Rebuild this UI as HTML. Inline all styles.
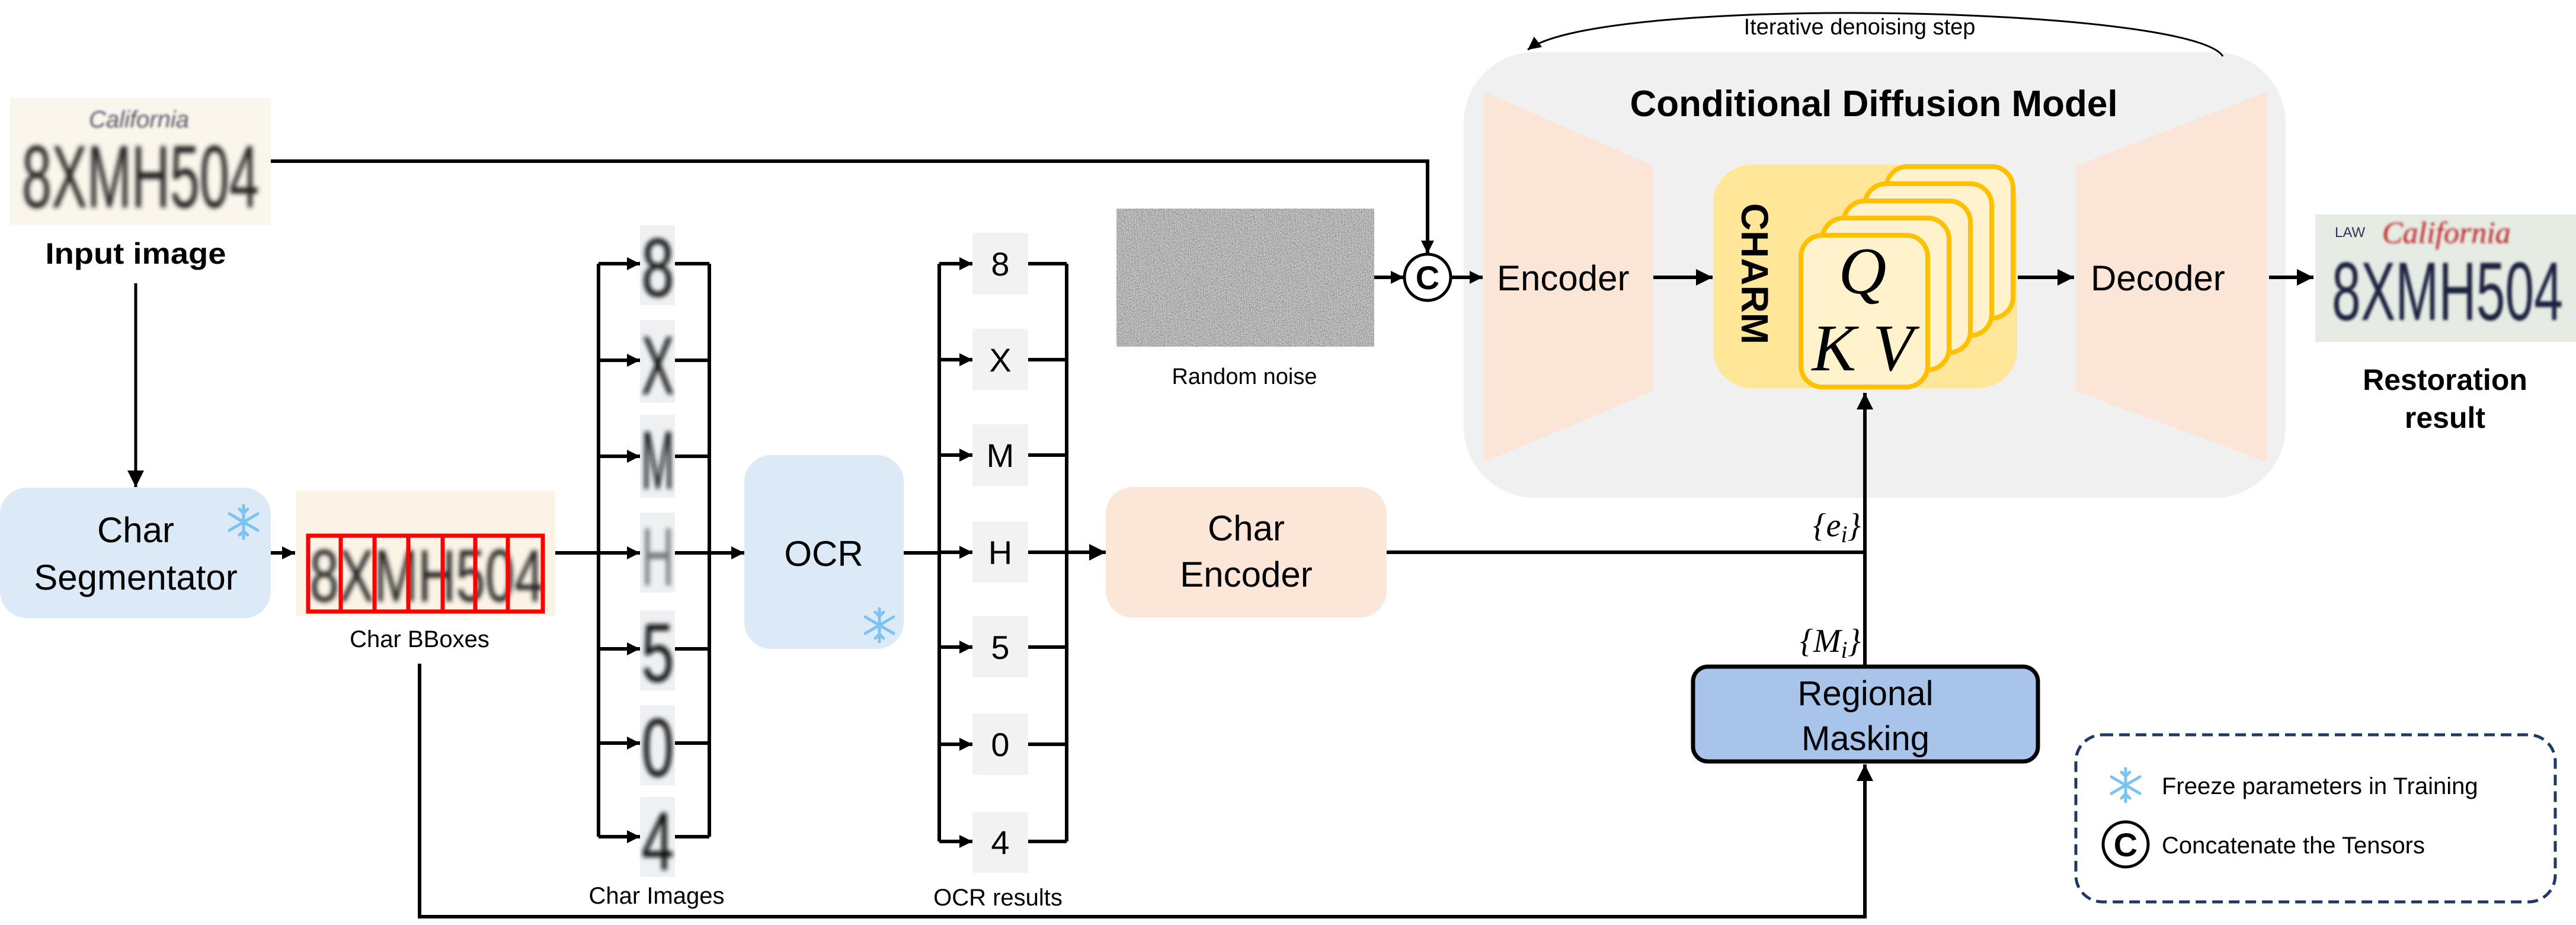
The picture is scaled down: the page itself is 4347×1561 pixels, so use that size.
<!DOCTYPE html>
<html><head><meta charset="utf-8"><style>
html,body{margin:0;padding:0;background:#fff;}
svg{display:block;}
text{font-family:"Liberation Sans",sans-serif;}
</style></head><body>
<svg width="4347" height="1561" viewBox="0 0 4347 1561" xmlns="http://www.w3.org/2000/svg">
<defs>
<marker id="a" viewBox="0 0 10 10" refX="10" refY="5" markerWidth="28" markerHeight="28" markerUnits="userSpaceOnUse" orient="auto"><path d="M0,0L10,5L0,10z" fill="#000"/></marker>
<marker id="as" viewBox="0 0 10 10" refX="10" refY="5" markerWidth="22" markerHeight="22" markerUnits="userSpaceOnUse" orient="auto"><path d="M0,0L10,5L0,10z" fill="#000"/></marker>
<filter id="noise" x="0" y="0" width="100%" height="100%"><feTurbulence type="fractalNoise" baseFrequency="1.2" numOctaves="1" seed="3"/><feColorMatrix type="matrix" values="0.33 0.33 0.33 0 0  0.33 0.33 0.33 0 0  0.33 0.33 0.33 0 0  0 0 0 0 1"/><feComponentTransfer><feFuncR type="linear" slope="3.5" intercept="-1.25"/><feFuncG type="linear" slope="3.5" intercept="-1.25"/><feFuncB type="linear" slope="3.5" intercept="-1.25"/></feComponentTransfer></filter>
<filter id="blur"><feGaussianBlur stdDeviation="4"/></filter>
<filter id="blur2"><feGaussianBlur stdDeviation="2"/></filter>
<g id="snow">
<g stroke="#7cc4ef" stroke-width="5" fill="none" stroke-linecap="round">
<line x1="0" y1="-28" x2="0" y2="28"/><line x1="-24" y1="-14" x2="24" y2="14"/><line x1="-24" y1="14" x2="24" y2="-14"/>
<path d="M-7,-22L0,-15L7,-22M-7,22L0,15L7,22"/>
</g></g>
</defs>

<!-- Input image -->
<rect x="17" y="165" width="440" height="215" fill="#fbf6ec"/>
<text x="237" y="350" font-size="150" text-anchor="middle" fill="#222" filter="url(#blur)" textLength="400" lengthAdjust="spacingAndGlyphs">8XMH504</text>
<text x="150" y="215" font-size="40" font-style="italic" fill="#556" filter="url(#blur2)">California</text>
<text x="229" y="445" font-size="50" font-weight="bold" text-anchor="middle" textLength="305" lengthAdjust="spacingAndGlyphs">Input image</text>
<line x1="229" y1="478" x2="229" y2="822" stroke="#000" stroke-width="5" marker-end="url(#a)"/>

<!-- Char Segmentator -->
<rect x="0" y="823" width="457" height="220" rx="45" fill="#dce9f7"/>
<text x="229" y="915" font-size="60" text-anchor="middle">Char</text>
<text x="229" y="995" font-size="60" text-anchor="middle">Segmentator</text>
<use href="#snow" x="411" y="881"/>
<line x1="457" y1="933" x2="498" y2="933" stroke="#000" stroke-width="6" marker-end="url(#as)"/>

<!-- Char BBoxes -->
<rect x="500" y="828" width="437" height="212" fill="#fbf4e6"/>
<text x="720" y="1015" font-size="125" text-anchor="middle" fill="#222" filter="url(#blur)" textLength="395" lengthAdjust="spacingAndGlyphs">8XMH504</text>
<g fill="none" stroke="#f00" stroke-width="7">
<rect x="520" y="904" width="396" height="128"/>
<line x1="575" y1="904" x2="575" y2="1032"/><line x1="632" y1="904" x2="632" y2="1032"/><line x1="689" y1="904" x2="689" y2="1032"/><line x1="747" y1="904" x2="747" y2="1032"/><line x1="802" y1="904" x2="802" y2="1032"/><line x1="857" y1="904" x2="857" y2="1032"/>
</g>
<text x="708" y="1092" font-size="40" text-anchor="middle">Char BBoxes</text>

<!-- char images bracket -->
<g stroke="#000" stroke-width="6" fill="none">
<line x1="937" y1="933" x2="1010" y2="933"/>
<line x1="1010" y1="445" x2="1010" y2="1412"/>
<line x1="1197" y1="445" x2="1197" y2="1412"/>
</g>
<g stroke="#000" stroke-width="6">
<line x1="1010" y1="445" x2="1080" y2="445" marker-end="url(#as)"/>
<line x1="1010" y1="608" x2="1080" y2="608" marker-end="url(#as)"/>
<line x1="1010" y1="770" x2="1080" y2="770" marker-end="url(#as)"/>
<line x1="1010" y1="933" x2="1080" y2="933" marker-end="url(#as)"/>
<line x1="1010" y1="1095" x2="1080" y2="1095" marker-end="url(#as)"/>
<line x1="1010" y1="1254" x2="1080" y2="1254" marker-end="url(#as)"/>
<line x1="1010" y1="1412" x2="1080" y2="1412" marker-end="url(#as)"/>
<line x1="1139" y1="445" x2="1197" y2="445"/><line x1="1139" y1="608" x2="1197" y2="608"/><line x1="1139" y1="770" x2="1197" y2="770"/><line x1="1139" y1="1095" x2="1197" y2="1095"/><line x1="1139" y1="1254" x2="1197" y2="1254"/><line x1="1139" y1="1412" x2="1197" y2="1412"/>
<line x1="1139" y1="933" x2="1256" y2="933" marker-end="url(#as)"/>
</g>
<g fill="#eef0f2">
<rect x="1080" y="380" width="59" height="135"/><rect x="1080" y="540" width="59" height="140"/><rect x="1080" y="700" width="59" height="140"/><rect x="1080" y="865" width="59" height="135"/><rect x="1080" y="1030" width="59" height="135"/><rect x="1080" y="1190" width="59" height="135"/><rect x="1080" y="1345" width="59" height="135"/>
</g>
<g font-size="140" text-anchor="middle" fill="#111" filter="url(#blur)">
<text x="1110" y="500" textLength="55" lengthAdjust="spacingAndGlyphs">8</text>
<text x="1110" y="665" textLength="55" lengthAdjust="spacingAndGlyphs">X</text>
<text x="1110" y="825" textLength="55" lengthAdjust="spacingAndGlyphs">M</text>
<text x="1110" y="988" textLength="55" lengthAdjust="spacingAndGlyphs" fill="#777">H</text>
<text x="1110" y="1150" textLength="55" lengthAdjust="spacingAndGlyphs">5</text>
<text x="1110" y="1310" textLength="55" lengthAdjust="spacingAndGlyphs">0</text>
<text x="1110" y="1468" textLength="55" lengthAdjust="spacingAndGlyphs">4</text>
</g>
<text x="1108" y="1525" font-size="40" text-anchor="middle">Char Images</text>

<!-- OCR -->
<rect x="1256" y="768" width="269" height="327" rx="45" fill="#dce9f7"/>
<text x="1390" y="955" font-size="60" text-anchor="middle">OCR</text>
<use href="#snow" x="1484" y="1055"/>

<g stroke="#000" stroke-width="6" fill="none">
<line x1="1525" y1="933" x2="1585" y2="933"/>
<line x1="1585" y1="445" x2="1585" y2="1420"/>
<line x1="1800" y1="445" x2="1800" y2="1420"/>
</g>
<g stroke="#000" stroke-width="6">
<line x1="1585" y1="445" x2="1641" y2="445" marker-end="url(#as)"/>
<line x1="1585" y1="607" x2="1641" y2="607" marker-end="url(#as)"/>
<line x1="1585" y1="768" x2="1641" y2="768" marker-end="url(#as)"/>
<line x1="1585" y1="932" x2="1641" y2="932" marker-end="url(#as)"/>
<line x1="1585" y1="1092" x2="1641" y2="1092" marker-end="url(#as)"/>
<line x1="1585" y1="1256" x2="1641" y2="1256" marker-end="url(#as)"/>
<line x1="1585" y1="1420" x2="1641" y2="1420" marker-end="url(#as)"/>
<line x1="1735" y1="445" x2="1800" y2="445"/><line x1="1735" y1="607" x2="1800" y2="607"/><line x1="1735" y1="768" x2="1800" y2="768"/><line x1="1735" y1="1092" x2="1800" y2="1092"/><line x1="1735" y1="1256" x2="1800" y2="1256"/><line x1="1735" y1="1420" x2="1800" y2="1420"/>
<line x1="1735" y1="932" x2="1866" y2="932" marker-end="url(#a)"/>
</g>
<g fill="#f2f2f2">
<rect x="1641" y="393" width="94" height="104"/><rect x="1641" y="555" width="94" height="103"/><rect x="1641" y="716" width="94" height="104"/><rect x="1641" y="880" width="94" height="103"/><rect x="1641" y="1040" width="94" height="103"/><rect x="1641" y="1204" width="94" height="104"/><rect x="1641" y="1370" width="94" height="103"/>
</g>
<g font-size="56" text-anchor="middle">
<text x="1688" y="465">8</text><text x="1688" y="627">X</text><text x="1688" y="788">M</text><text x="1688" y="952">H</text><text x="1688" y="1112">5</text><text x="1688" y="1276">0</text><text x="1688" y="1441">4</text>
</g>
<text x="1684" y="1528" font-size="40" text-anchor="middle">OCR results</text>

<!-- Char Encoder -->
<rect x="1866" y="822" width="474" height="220" rx="45" fill="#fce6d8"/>
<text x="2103" y="912" font-size="60" text-anchor="middle">Char</text>
<text x="2103" y="990" font-size="60" text-anchor="middle">Encoder</text>

<!-- noise -->
<rect x="1884" y="352" width="435" height="233" fill="#888" filter="url(#noise)"/>
<text x="2100" y="648" font-size="38" text-anchor="middle">Random noise</text>

<!-- input to concat -->
<polyline points="457,272 2409,272 2409,428" fill="none" stroke="#000" stroke-width="6" marker-end="url(#as)"/>
<line x1="2319" y1="468" x2="2369" y2="468" stroke="#000" stroke-width="6" marker-end="url(#as)"/>

<!-- diffusion model -->
<rect x="2470" y="88" width="1387" height="752" rx="120" fill="#f0f0f0"/>
<path d="M2504,155L2790,280L2790,660L2504,780Z" fill="#fbe5d6"/>
<path d="M3503,280L3826,155L3826,780L3503,660Z" fill="#fbe5d6"/>
<text x="3162" y="196" font-size="62" font-weight="bold" text-anchor="middle">Conditional Diffusion Model</text>
<circle cx="2409" cy="468" r="39" fill="#fff" stroke="#000" stroke-width="5"/>
<text x="2409" y="488" font-size="56" font-weight="bold" text-anchor="middle">C</text>
<line x1="2449" y1="468" x2="2502" y2="468" stroke="#000" stroke-width="6" marker-end="url(#as)"/>
<text x="2526" y="490" font-size="60">Encoder</text>
<text x="3528" y="490" font-size="60">Decoder</text>
<line x1="2790" y1="468" x2="2890" y2="468" stroke="#000" stroke-width="6" marker-end="url(#a)"/>

<rect x="2891" y="278" width="513" height="377" rx="65" fill="#ffe699"/>
<text transform="translate(2939,462) rotate(90)" font-size="64" font-weight="bold" text-anchor="middle">CHARM</text>
<g fill="#fff2cc" stroke="#ffc000" stroke-width="8">
<rect x="3183" y="281" width="214" height="256" rx="36"/>
<rect x="3147" y="310" width="214" height="256" rx="36"/>
<rect x="3111" y="339" width="214" height="256" rx="36"/>
<rect x="3075" y="368" width="214" height="256" rx="36"/>
<rect x="3039" y="397" width="214" height="256" rx="36"/>
</g>
<text x="3143" y="495" font-size="112" font-style="italic" text-anchor="middle" style="font-family:'Liberation Serif',serif">Q</text>
<text x="3143" y="625" font-size="112" font-style="italic" text-anchor="middle" style="font-family:'Liberation Serif',serif">K V</text>
<line x1="3405" y1="468" x2="3500" y2="468" stroke="#000" stroke-width="6" marker-end="url(#a)"/>
<line x1="3829" y1="468" x2="3904" y2="468" stroke="#000" stroke-width="6" marker-end="url(#a)"/>

<!-- iterative arc -->
<path d="M3751,95 C3700,10 2700,-10 2578,84" fill="none" stroke="#000" stroke-width="3" marker-end="url(#as)"/>
<text x="3138" y="58" font-size="38" text-anchor="middle">Iterative denoising step</text>

<!-- restoration -->
<rect x="3907" y="362" width="440" height="215" fill="#e6ebe4"/>
<text x="4130" y="540" font-size="140" text-anchor="middle" fill="#1c2440" filter="url(#blur2)" textLength="390" lengthAdjust="spacingAndGlyphs">8XMH504</text>
<text x="4020" y="410" font-size="52" font-style="italic" fill="#b22" style="font-family:'Liberation Serif',serif" filter="url(#blur2)">California</text>
<text x="3940" y="400" font-size="24" fill="#335">LAW</text>
<text x="4126" y="658" font-size="50" font-weight="bold" text-anchor="middle">Restoration</text>
<text x="4126" y="722" font-size="50" font-weight="bold" text-anchor="middle">result</text>

<!-- conditions -->
<line x1="2340" y1="932" x2="3147" y2="932" stroke="#000" stroke-width="6"/>
<line x1="3147" y1="1125" x2="3147" y2="663" stroke="#000" stroke-width="6" marker-end="url(#a)"/>
<text x="3140" y="905" font-size="56" font-style="italic" text-anchor="end" style="font-family:'Liberation Serif',serif">{e<tspan font-size="40" dy="10">i</tspan><tspan dy="-10">}</tspan></text>
<text x="3140" y="1100" font-size="56" font-style="italic" text-anchor="end" style="font-family:'Liberation Serif',serif">{M<tspan font-size="40" dy="10">i</tspan><tspan dy="-10">}</tspan></text>
<rect x="2857" y="1125" width="582" height="160" rx="25" fill="#a9c4eb" stroke="#000" stroke-width="7"/>
<text x="3148" y="1190" font-size="58" text-anchor="middle">Regional</text>
<text x="3148" y="1266" font-size="58" text-anchor="middle">Masking</text>
<polyline points="708,1120 708,1547 3147,1547 3147,1290" fill="none" stroke="#000" stroke-width="6" marker-end="url(#a)"/>

<!-- legend -->
<rect x="3503" y="1240" width="809" height="282" rx="45" fill="#fff" stroke="#1f3864" stroke-width="5" stroke-dasharray="18,10"/>
<use href="#snow" x="3587" y="1325"/>
<text x="3648" y="1340" font-size="40">Freeze parameters in Training</text>
<circle cx="3587" cy="1425" r="38" fill="#fff" stroke="#000" stroke-width="5"/>
<text x="3587" y="1445" font-size="56" font-weight="bold" text-anchor="middle">C</text>
<text x="3648" y="1440" font-size="40">Concatenate the Tensors</text>
</svg>
</body></html>
